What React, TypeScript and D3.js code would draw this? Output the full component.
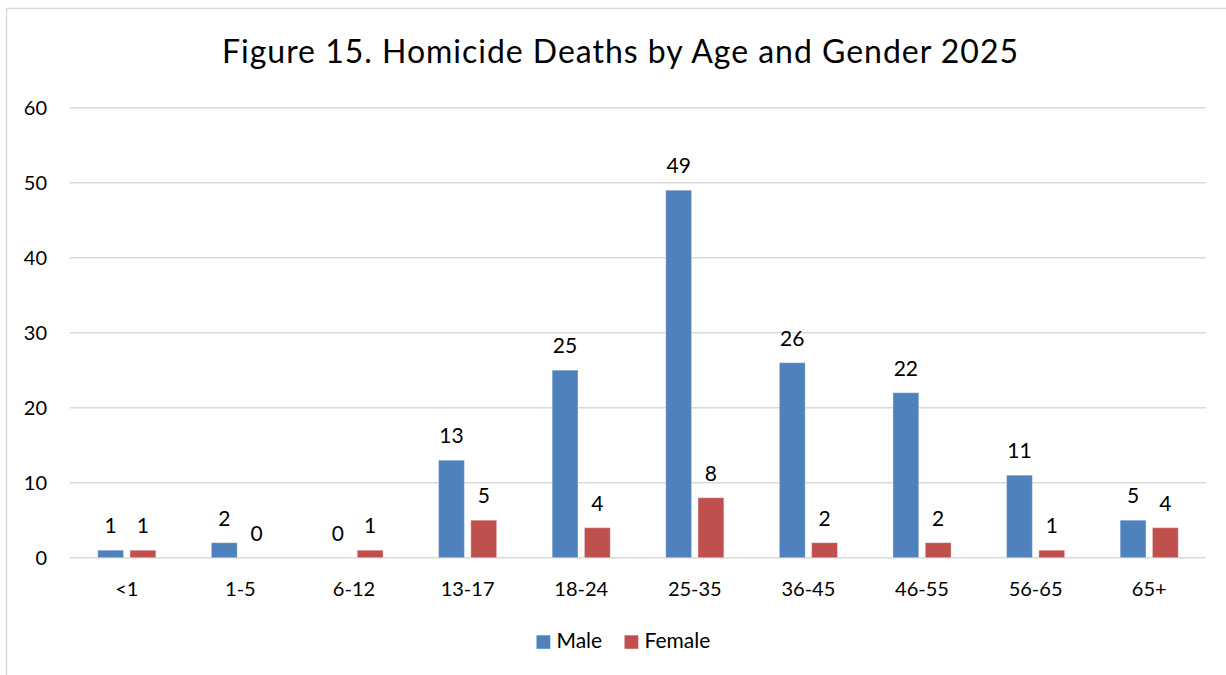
import React from "react";
import * as d3 from "d3";

const categories = ["<1", "1-5", "6-12", "13-17", "18-24", "25-35", "36-45", "46-55", "56-65", "65+"];
const maleValues = [1, 2, 0, 13, 25, 49, 26, 22, 11, 5];
const femaleValues = [1, 0, 1, 5, 4, 8, 2, 2, 1, 4];
const seriesNames = ["Male", "Female"];
const seriesColors = ["#4F81BD", "#C0504D"];
const yTicks = [0, 10, 20, 30, 40, 50, 60];
const title = "Figure 15. Homicide Deaths by Age and Gender 2025";

const W = 1226;
const H = 675;
const FONT = "Lato, 'Open Sans', sans-serif";

export default function App() {
  const x0 = d3.scaleBand<string>().domain(categories).range([70, 1206]).padding(0);
  const bw = x0.bandwidth();
  const x1 = d3.scaleBand<string>().domain(seriesNames).range([27.75, bw - 27.75]).paddingInner(0.2).paddingOuter(0);
  const y = d3.scaleLinear().domain([0, 60]).range([557.7, 107.7]);
  const series = [maleValues, femaleValues];

  return (
    <svg width={W} height={H} style={{ position: "absolute", left: 0, top: 0, background: "#fff" }} fontFamily={FONT}>
      <rect x={6.5} y={8.5} width={W + 10} height={H + 10} fill="#fff" stroke="#d9d9d9" strokeWidth={1.5} />
      <text x={620} y={63} textAnchor="middle" fontSize={32} textLength={796} lengthAdjust="spacing" fill="#000">{title}</text>
      {yTicks.map((t) => (
        <g key={t}>
          <line x1={70} x2={1206} y1={y(t)} y2={y(t)} stroke="#d9d9d9" strokeWidth={1.5} />
          <text x={47} y={y(t)} dy="0.35em" textAnchor="end" fontSize={20} fill="#000">{t}</text>
        </g>
      ))}
      {categories.map((c, i) => (
        <g key={c} transform={`translate(${x0(c)},0)`}>
          {seriesNames.map((s, j) => {
            const v = series[j][i];
            const bx = x1(s)!;
            return (
              <g key={s}>
                {v > 0 && (
                  <rect x={bx} y={y(v)} width={x1.bandwidth()} height={y(0) - y(v)} fill={seriesColors[j]} stroke="#fff" strokeOpacity={0.35} strokeWidth={1} />
                )}
                <text x={bx + x1.bandwidth() / 2} y={y(v) - 17} textAnchor="middle" fontSize={21} fill="#000">{v}</text>
              </g>
            );
          })}
          <text x={bw / 2} y={596} textAnchor="middle" fontSize={20} fill="#000">{c}</text>
        </g>
      ))}
      {seriesNames.map((s, j) => {
        const lx = j === 0 ? 536.5 : 624.5;
        return (
          <g key={s}>
            <rect x={lx} y={635.3} width={13.8} height={13.5} fill={seriesColors[j]} />
            <text x={lx + 20} y={641} dy="0.35em" fontSize={21} fill="#000">{s}</text>
          </g>
        );
      })}
    </svg>
  );
}
